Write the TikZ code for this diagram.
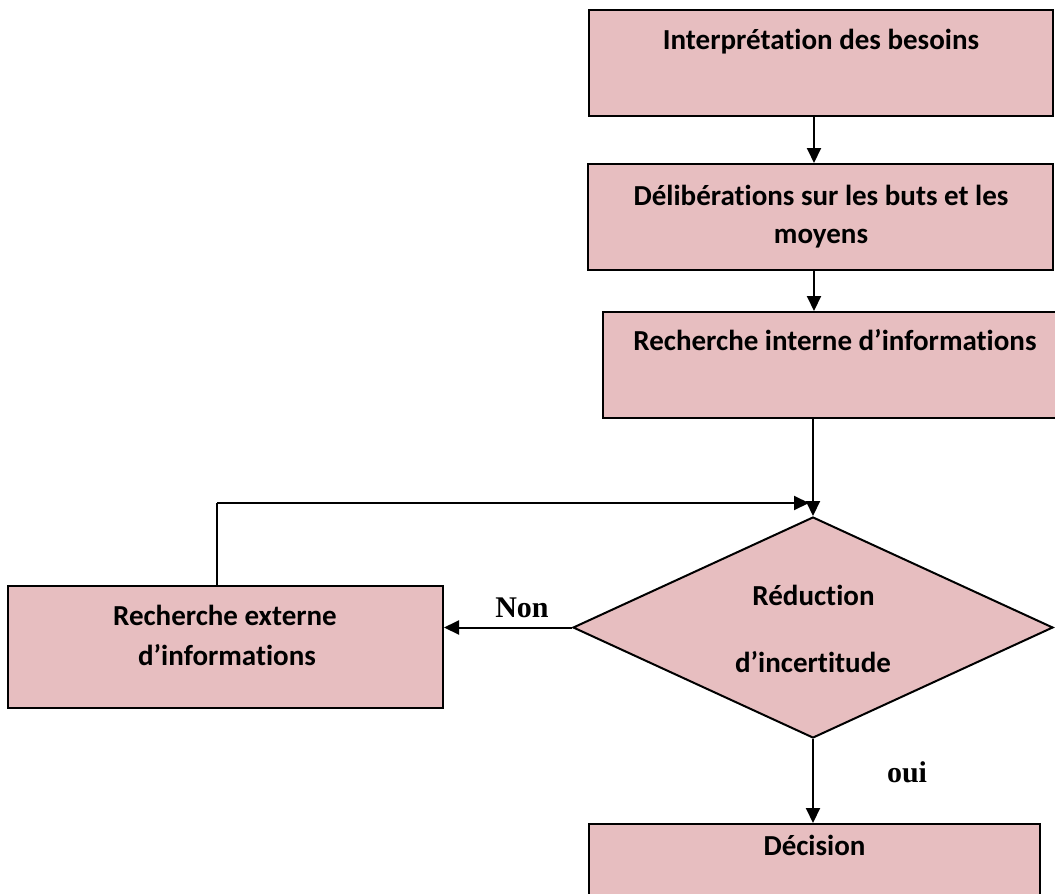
\documentclass[tikz,border=0pt]{standalone}
\usepackage{fontspec}
\setmainfont{Carlito}[Ligatures={NoCommon}]
\newfontfamily\answerfont{Liberation Serif}
\usetikzlibrary{arrows.meta,shapes.geometric}
\definecolor{tissue}{RGB}{231,190,192}
\begin{document}
\begin{tikzpicture}[x=1pt,y=-1pt,
  stagebox/.style={draw=black,line width=2pt,fill=tissue,inner sep=0pt,rectangle},
  testbox/.style={draw=black,line width=2pt,fill=tissue,inner sep=0pt,diamond},
  caption/.style={font=\fontsize{29}{33}\selectfont\bfseries,anchor=base,inner sep=0pt},
  answer/.style={font=\fontsize{30}{34}\selectfont\answerfont\bfseries,anchor=base,inner sep=0pt},
  flow/.style={line width=2pt,-{Triangle[length=15pt,width=14pt]}},
  wire/.style={line width=2pt}]
\useasboundingbox (0,0) rectangle (1055,894);
\clip (0,0) rectangle (1055,894);

% process boxes
\node[stagebox,minimum width=464,minimum height=106] (b1) at (821,63) {};
\node[stagebox,minimum width=465,minimum height=106] (b2) at (820.5,217) {};
\node[stagebox,minimum width=464,minimum height=106] (b3) at (835,365) {};
\node[testbox,minimum width=480,minimum height=221] (d) at (813,627.5) {};
\node[stagebox,minimum width=435,minimum height=122] (ext) at (225.5,647) {};
\node[stagebox,minimum width=451,minimum height=106] (dec) at (814.5,877) {};

% box texts
\node[caption] (t1) at (821,49) {Interprétation des besoins};
\node[caption] (t2a) at (821,205) {Délibérations sur les buts et les};
\node[caption] (t2b) at (821,243) {moyens};
\node[caption] (t3) at (835,350) {Recherche interne d’informations};
\node[caption] (td1) at (813.5,605) {Réduction};
\node[caption] (td2) at (813,672) {d’incertitude};
\node[caption] (te1) at (225,625) {Recherche externe};
\node[caption] (te2) at (227,665) {d’informations};
\node[caption] (tdec) at (814.5,855) {Décision};

% branch labels
\node[answer] (non) at (522,617) {Non};
\node[answer] (oui) at (907,782) {oui};

% connectors
\coordinate (col) at (814,0);
\draw[flow] (b1.south -| col) -- (b2.north -| col);
\draw[flow] (b2.south -| col) -- (b3.north -| col);
\draw[flow] (b3.south -| d.north) -- (d.north);
\draw[flow] (d.west) -- (ext.east |- d.west);
\draw[flow] (d.south) -- (dec.north -| d.south);
\coordinate (loopin) at (809,503);
\coordinate (loopx) at (217,0);
\draw[wire] (ext.north -| loopx) -- (loopx |- loopin);
\draw[flow] (loopx |- loopin) -- (loopin);
\end{tikzpicture}
\end{document}
